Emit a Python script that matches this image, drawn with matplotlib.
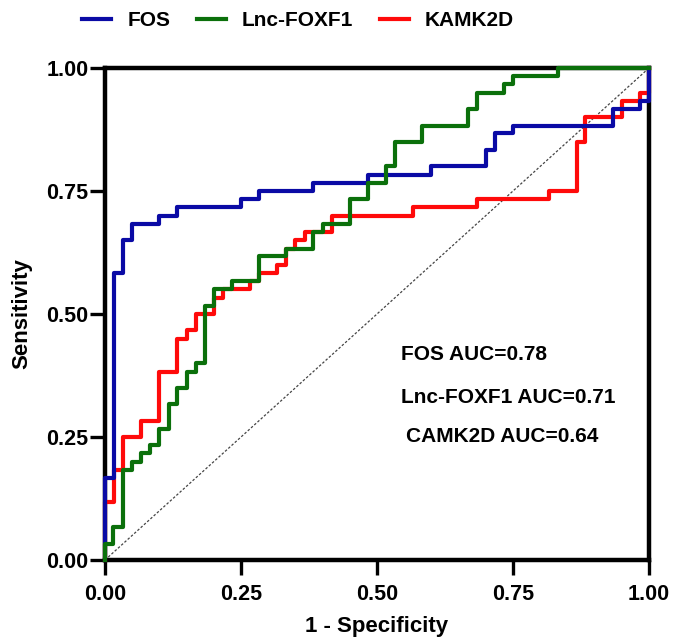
import matplotlib
matplotlib.use("Agg")
import matplotlib.pyplot as plt

plt.rcParams["font.family"] = ["Liberation Sans", "DejaVu Sans"]
plt.rcParams["font.weight"] = "bold"

# ── ROC data: fpr where sensitivity steps, and the level after the step ──────
fos_fpr = [0, 0, 0.017, 0.033, 0.05, 0.1, 0.133, 0.25, 0.283, 0.383, 0.483,
           0.6, 0.7, 0.717, 0.75, 0.933, 0.983, 1]
fos_tpr = [0, 0.167, 0.583, 0.65, 0.683, 0.70, 0.717, 0.733, 0.75, 0.767, 0.783,
           0.80, 0.833, 0.867, 0.883, 0.917, 0.933, 1]

foxf1_fpr = [0, 0, 0.015, 0.033, 0.05, 0.067, 0.083, 0.1, 0.117, 0.133, 0.15,
             0.167, 0.183, 0.2, 0.233, 0.283, 0.333, 0.383, 0.4, 0.45, 0.483,
             0.517, 0.533, 0.583, 0.667, 0.683, 0.733, 0.75, 0.833, 1]
foxf1_tpr = [0, 0.033, 0.067, 0.183, 0.2, 0.217, 0.233, 0.267, 0.317, 0.35, 0.383,
             0.40, 0.517, 0.55, 0.567, 0.617, 0.633, 0.667, 0.683, 0.733, 0.767,
             0.80, 0.85, 0.883, 0.917, 0.95, 0.967, 0.983, 1, 1]

camk_fpr = [0, 0, 0.017, 0.033, 0.067, 0.1, 0.133, 0.15, 0.167, 0.2, 0.217,
            0.267, 0.283, 0.317, 0.333, 0.35, 0.367, 0.417, 0.567, 0.683, 0.817,
            0.867, 0.883, 0.95, 0.983, 1]
camk_tpr = [0, 0.117, 0.183, 0.25, 0.283, 0.383, 0.45, 0.467, 0.5, 0.533, 0.55,
            0.567, 0.583, 0.60, 0.633, 0.65, 0.667, 0.70, 0.717, 0.733, 0.75,
            0.85, 0.90, 0.933, 0.95, 1]

series_names = ["FOS", "Lnc-FOXF1", "KAMK2D"]
auc_labels = ["FOS AUC=0.78", "Lnc-FOXF1 AUC=0.71", "CAMK2D AUC=0.64"]
ticks = [0.0, 0.25, 0.5, 0.75, 1.0]
tick_labels = ["0.00", "0.25", "0.50", "0.75", "1.00"]

BLUE = "#0a0aa5"
GREEN = "#0b700b"
RED = "#ff0a0a"

fig = plt.figure(figsize=(6.73, 6.37), dpi=100)
ax = fig.add_axes([105 / 673, 77 / 637, 544 / 673, 492 / 637])

# chance line
ax.plot([0, 1], [0, 1], color="#444444", lw=0.9, ls=(0, (2, 1.5)), zorder=1)

kw = dict(where="post", lw=3.0, clip_on=False, zorder=3)
l_red, = ax.step(camk_fpr, camk_tpr, color=RED, **kw)
l_blue, = ax.step(fos_fpr, fos_tpr, color=BLUE, **kw)
l_green, = ax.step(foxf1_fpr, foxf1_tpr, color=GREEN, **kw)

ax.set_xlim(0, 1)
ax.set_ylim(0, 1)
ax.set_xticks(ticks)
ax.set_xticklabels(tick_labels)
ax.set_yticks(ticks)
ax.set_yticklabels(tick_labels)
for s in ax.spines.values():
    s.set_linewidth(3.2)
    s.set_zorder(2.5)
ax.tick_params(axis="both", direction="out", length=11, width=2.4, labelsize=15.5)
ax.tick_params(axis="x", pad=6)
ax.tick_params(axis="y", pad=1)
for lab in ax.get_xticklabels() + ax.get_yticklabels():
    lab.set_fontweight("bold")

ax.set_xlabel("1 - Specificity", fontsize=16, fontweight="bold", labelpad=8)
ax.set_ylabel("Sensitivity", fontsize=16, fontweight="bold", labelpad=10)

auc_pos = [(0.545, 0.417), (0.545, 0.331), (0.553, 0.25)]
for txt, (tx, ty) in zip(auc_labels, auc_pos):
    ax.text(tx, ty, txt, fontsize=15, fontweight="bold", va="center", ha="left")

fig.legend([l_blue, l_green, l_red], series_names, loc="upper center",
           bbox_to_anchor=(0.443, 1.012), ncol=3, frameon=False,
           prop={"size": 15, "weight": "bold"}, handlelength=1.4,
           handletextpad=0.78, columnspacing=1.25)

fig.savefig("out.png", dpi=100)
